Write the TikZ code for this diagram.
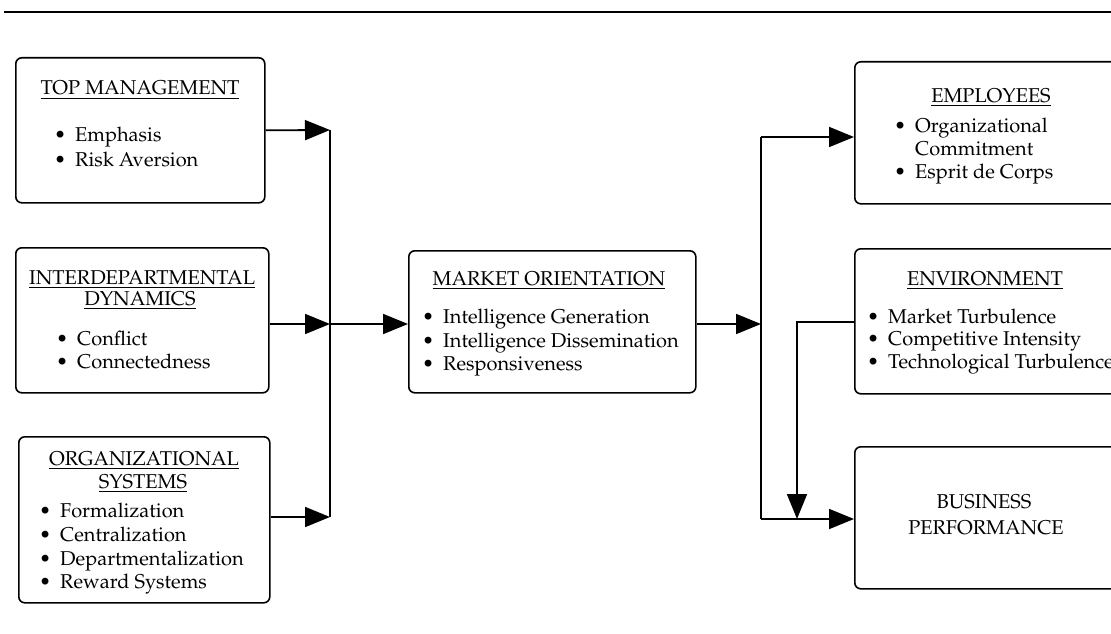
\documentclass[tikz,border=0pt]{standalone}
\usepackage[T1]{fontenc}
\usepackage{mathpazo}
\usetikzlibrary{arrows.meta}
\newcommand{\fs}{\fontsize{20}{24}\selectfont}
\newcommand{\bitem}[1]{\llap{\textbullet\hspace{9pt}}#1}
\tikzset{
  box/.style={draw, line width=1.6pt, rounded corners=6pt, inner sep=0pt, anchor=north west},
  ttl/.style={inner sep=0pt, anchor=base, font=\fs},
  itm/.style={inner sep=0pt, anchor=base west, font=\fs},
  wire/.style={line width=1.8pt},
  arr/.style={wire, -{Triangle[length=25pt,width=20pt]}},
}
\begin{document}
\begin{tikzpicture}[x=1pt,y=-1pt]
\useasboundingbox (0,0) rectangle (1111,634);
\clip (0,0) rectangle (1111,634);

% rule across the top
\draw[wire] (4,12) -- (1111,12);

% antecedents
\node[box, minimum width=249pt, minimum height=145pt] (tm) at (15,57) {};
\node[ttl] (tmT) at (140,95) {\underline{TOP MANAGEMENT}};
\node[itm] (tm1) at (75,141) {\bitem{Emphasis}};
\node[itm] (tm2) at (75,166) {\bitem{Risk Aversion}};

\node[box, minimum width=253pt, minimum height=145pt] (id) at (15,247) {};
\node[ttl] (idT1) at (142,284) {\underline{INTERDEPARTMENTAL}};
\node[ttl] (idT2) at (140,305) {\underline{DYNAMICS}};
\node[itm] (id1) at (77,345) {\bitem{Conflict}};
\node[itm] (id2) at (77,368) {\bitem{Connectedness}};

\node[box, minimum width=251pt, minimum height=166pt] (os) at (18,436) {};
\node[ttl] (osT1) at (144,465) {\underline{ORGANIZATIONAL}};
\node[ttl] (osT2) at (143,488) {\underline{SYSTEMS}};
\node[itm] (os1) at (60,517) {\bitem{Formalization}};
\node[itm] (os2) at (60,541) {\bitem{Centralization}};
\node[itm] (os3) at (60,565) {\bitem{Departmentalization}};
\node[itm] (os4) at (60,588) {\bitem{Reward Systems}};

% market orientation
\node[box, minimum width=287pt, minimum height=142pt] (mo) at (408,250) {};
\node[ttl] (moT) at (549,285) {\underline{MARKET ORIENTATION}};
\node[itm] (mo1) at (443,323) {\bitem{Intelligence Generation}};
\node[itm] (mo2) at (443,347) {\bitem{Intelligence Dissemination}};
\node[itm] (mo3) at (443,370) {\bitem{Responsiveness}};

% consequences
\node[box, minimum width=271pt, minimum height=142pt] (emp) at (854,61) {};
\node[ttl] (empT) at (991,102) {\underline{EMPLOYEES}};
\node[itm] (emp1) at (915,132) {\bitem{Organizational}};
\node[itm] (emp2) at (915,155) {Commitment};
\node[itm] (emp3) at (915,178) {\bitem{Esprit de Corps}};

\node[box, minimum width=271pt, minimum height=145pt] (env) at (854,248) {};
\node[ttl] (envT) at (985,285) {\underline{ENVIRONMENT}};
\node[itm] (env1) at (888,323) {\bitem{Market Turbulence}};
\node[itm] (env2) at (888,345) {\bitem{Competitive Intensity}};
\node[itm] (env3) at (888,368) {\bitem{Technological Turbulence}};

\node[box, minimum width=271pt, minimum height=142pt] (bp) at (854,446) {};
\node[ttl] (bpT1) at (984,508) {BUSINESS};
\node[ttl] (bpT2) at (986,534) {PERFORMANCE};

% junctions
\coordinate (j1) at (330,130);
\coordinate (jm) at (330,324);
\coordinate (j3) at (330,517);
\coordinate (k1) at (761,137);
\coordinate (km) at (761,324);
\coordinate (k3) at (761,519);
\coordinate (e1) at (797,322);

% left-hand connectors
\draw[wire] (j1) -- (j3);
\draw[arr] (tm.east) -- (j1);
\draw[arr] (id.east |- jm) -- (jm);
\draw[arr] (os.east |- j3) -- (j3);
\draw[arr] (jm) -- (mo.west |- jm);

% right-hand connectors
\draw[arr] (mo.east |- km) -- (km);
\draw[wire] (k1) -- (k3);
\draw[arr] (k1) -- (emp.west |- k1);
\draw[arr] (k3) -- (bp.west |- k3);
\draw[arr] (env.west |- e1) -- (e1) -- (e1 |- k3);
\end{tikzpicture}
\end{document}
